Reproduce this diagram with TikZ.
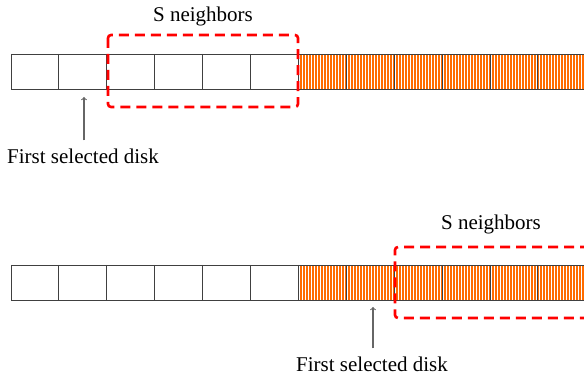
\documentclass[tikz,border=0pt]{standalone}
\usepackage{fontspec}
\setmainfont{Liberation Serif}
\begin{document}
\begin{tikzpicture}[x=1pt,y=-1pt,
  disklabel/.style={font=\fontsize{21}{24}\selectfont,inner sep=0pt},
  nbbox/.style={draw=red,line width=2.6pt,dash pattern=on 10pt off 6pt,rounded corners=3pt},
  diskline/.style={draw=black!75,line width=0.9pt}]
  \useasboundingbox (0,0) rectangle (584,379);
  % upper strip: six free disks, then six used ones
  \fill[orange!85!red] (298,54) rectangle (584,89);
  \foreach \x in {299.5,302.5,...,584} \draw[white,line width=0.8pt] (\x,54)--(\x,89);
  \draw[diskline] (11,54)--(584,54) (11,89)--(584,89);
  \foreach \i in {0,...,11} \draw[diskline] ({11+47.9*\i},54)--({11+47.9*\i},89);
  % lower strip
  \fill[orange!85!red] (298,265) rectangle (584,300);
  \foreach \x in {299.5,302.5,...,584} \draw[white,line width=0.8pt] (\x,265)--(\x,300);
  \draw[diskline] (11,265)--(584,265) (11,300)--(584,300);
  \foreach \i in {0,...,11} \draw[diskline] ({11+47.9*\i},265)--({11+47.9*\i},300);
  % neighbor windows
  \draw[nbbox] (108,35) rectangle (298,107);
  \draw[nbbox] (590,247) -- (395,247) -- (395,318) -- (590,318);
  \node[disklabel] (nbUp) at (203,16) {S neighbors};
  \node[disklabel] (nbLow) at (491,224) {S neighbors};
  % first selected disk
  \node[disklabel] (firstUp) at (83,156) {First selected disk};
  \node[disklabel] (firstLow) at (372,364) {First selected disk};
  \coordinate (tipUp) at (84,97);
  \coordinate (tipLow) at (373,307);
  \draw[->,black!60,line width=1.1pt] ([yshift=8pt]firstUp.north -| tipUp) -- (tipUp);
  \draw[->,black!60,line width=1.1pt] ([yshift=8pt]firstLow.north -| tipLow) -- (tipLow);
\end{tikzpicture}
\end{document}
